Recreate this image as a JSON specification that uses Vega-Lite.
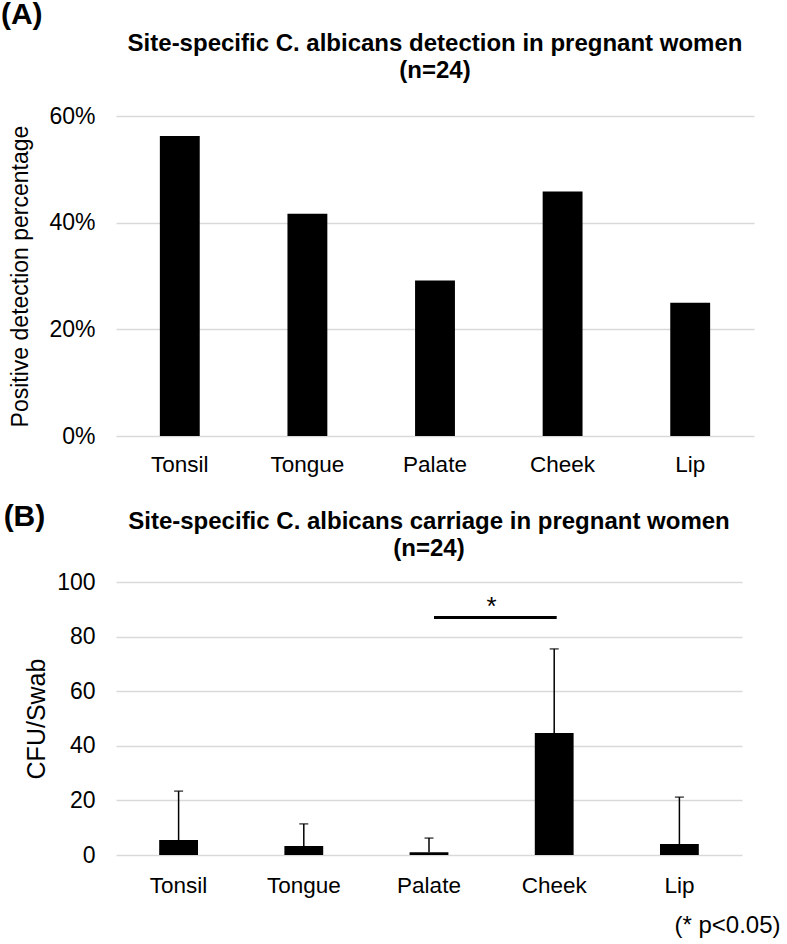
{
  "$schema": "https://vega.github.io/schema/vega-lite/v6.json",
  "padding": {"left": 0, "top": 0, "right": 0, "bottom": 5},
  "background": "white",
  "config": {
    "font": "Liberation Sans",
    "view": {"stroke": null},
    "axis": {"labelColor": "black", "titleColor": "black", "labelFont": "Liberation Sans", "titleFont": "Liberation Sans"},
    "title": {"color": "black", "font": "Liberation Sans"}
  },
  "datasets": {
    "detection": [
      {"site": "Tonsil", "pct": 0.5625},
      {"site": "Tongue", "pct": 0.4167},
      {"site": "Palate", "pct": 0.2917},
      {"site": "Cheek", "pct": 0.4583},
      {"site": "Lip", "pct": 0.25}
    ],
    "carriage": [
      {"site": "Tonsil", "mean": 5.5, "upper": 23.4},
      {"site": "Tongue", "mean": 3.3, "upper": 11.4},
      {"site": "Palate", "mean": 1.0, "upper": 6.2},
      {"site": "Cheek", "mean": 44.7, "upper": 75.5},
      {"site": "Lip", "mean": 4.0, "upper": 21.2}
    ],
    "sig": [
      {"x1": 2.54, "x2": 3.52, "y": 87, "xm": 3.0, "ty": 91, "label": "*"}
    ]
  },
  "spacing": 26,
  "vconcat": [
    {
      "title": {"text": "(A)", "anchor": "start", "frame": "bounds", "fontSize": 30, "fontWeight": "bold", "dx": -9, "offset": 2},
      "vconcat": [
        {
          "title": {"text": ["Site-specific C. albicans detection in pregnant women", "(n=24)"], "fontSize": 24, "fontWeight": "bold", "lineHeight": 27, "anchor": "middle", "offset": 22},
          "width": 638,
          "height": 320,
          "data": {"name": "detection"},
          "mark": {"type": "bar", "color": "black"},
          "encoding": {
            "x": {
              "field": "site", "type": "nominal", "sort": null,
              "scale": {"paddingInner": 0.6875, "paddingOuter": 0.34375},
              "axis": {"title": null, "labelAngle": 0, "labelFontSize": 22.5, "labelPadding": 17, "ticks": false, "domain": false}
            },
            "y": {
              "field": "pct", "type": "quantitative",
              "scale": {"domain": [0, 0.6], "nice": false},
              "axis": {"title": "Positive detection percentage", "titleFontSize": 23, "titleFontWeight": "normal", "titlePadding": 16,
                       "values": [0, 0.2, 0.4, 0.6], "format": ".0%", "labelFontSize": 23, "labelPadding": 21,
                       "domain": false, "ticks": false, "gridColor": "#d9d9d9", "gridWidth": 1.5}
            }
          }
        }
      ]
    },
    {
      "title": {"text": "(B)", "anchor": "start", "frame": "bounds", "fontSize": 30, "fontWeight": "bold", "dx": -21, "offset": -22},
      "vconcat": [
        {
          "title": {"text": ["Site-specific C. albicans carriage in pregnant women", "(n=24)"], "fontSize": 24, "fontWeight": "bold", "lineHeight": 27, "anchor": "middle", "offset": 10},
          "width": 626,
          "height": 273,
          "layer": [
            {
              "data": {"name": "carriage"},
              "encoding": {
                "x": {
                  "field": "site", "type": "nominal", "sort": null,
                  "scale": {"paddingInner": 0.69, "paddingOuter": 0.345},
                  "axis": {"title": "(* p<0.05)", "titleFontSize": 24, "titleFontWeight": "normal", "titleAnchor": "end", "titleAlign": "right",
                           "titleX": 664, "titleY": 70, "titleBaseline": "middle",
                           "labelAngle": 0, "labelFontSize": 22.5, "labelPadding": 19, "ticks": false, "domain": false}
                }
              },
              "layer": [
                {
                  "mark": {"type": "bar", "color": "black"},
                  "encoding": {
                    "y": {
                      "field": "mean", "type": "quantitative",
                      "scale": {"domain": [0, 100], "nice": false},
                      "axis": {"title": "CFU/Swab", "titleFontSize": 25, "titleFontWeight": "normal", "titlePadding": 7,
                               "values": [0, 20, 40, 60, 80, 100], "labelFontSize": 23, "labelPadding": 21,
                               "domain": false, "ticks": false, "gridColor": "#d9d9d9", "gridWidth": 1.5}
                    }
                  }
                },
                {
                  "mark": {"type": "rule", "color": "black", "strokeWidth": 1.5},
                  "encoding": {
                    "y": {"field": "mean", "type": "quantitative"},
                    "y2": {"field": "upper"}
                  }
                },
                {
                  "mark": {"type": "tick", "color": "black", "thickness": 1.5, "size": 9},
                  "encoding": {
                    "y": {"field": "upper", "type": "quantitative"}
                  }
                }
              ]
            },
            {
              "data": {"name": "sig"},
              "layer": [
                {
                  "mark": {"type": "rule", "color": "black", "strokeWidth": 3},
                  "encoding": {
                    "x": {"field": "x1", "type": "quantitative", "scale": {"domain": [0, 5], "nice": false, "zero": false}, "axis": null},
                    "x2": {"field": "x2"},
                    "y": {"field": "y", "type": "quantitative"}
                  }
                },
                {
                  "mark": {"type": "text", "color": "black", "fontSize": 26, "baseline": "middle", "align": "center"},
                  "encoding": {
                    "x": {"field": "xm", "type": "quantitative", "scale": {"domain": [0, 5], "nice": false, "zero": false}, "axis": null},
                    "y": {"field": "ty", "type": "quantitative"},
                    "text": {"field": "label"}
                  }
                }
              ]
            }
          ],
          "resolve": {"scale": {"x": "independent"}, "axis": {"x": "independent"}}
        }
      ]
    }
  ]
}
